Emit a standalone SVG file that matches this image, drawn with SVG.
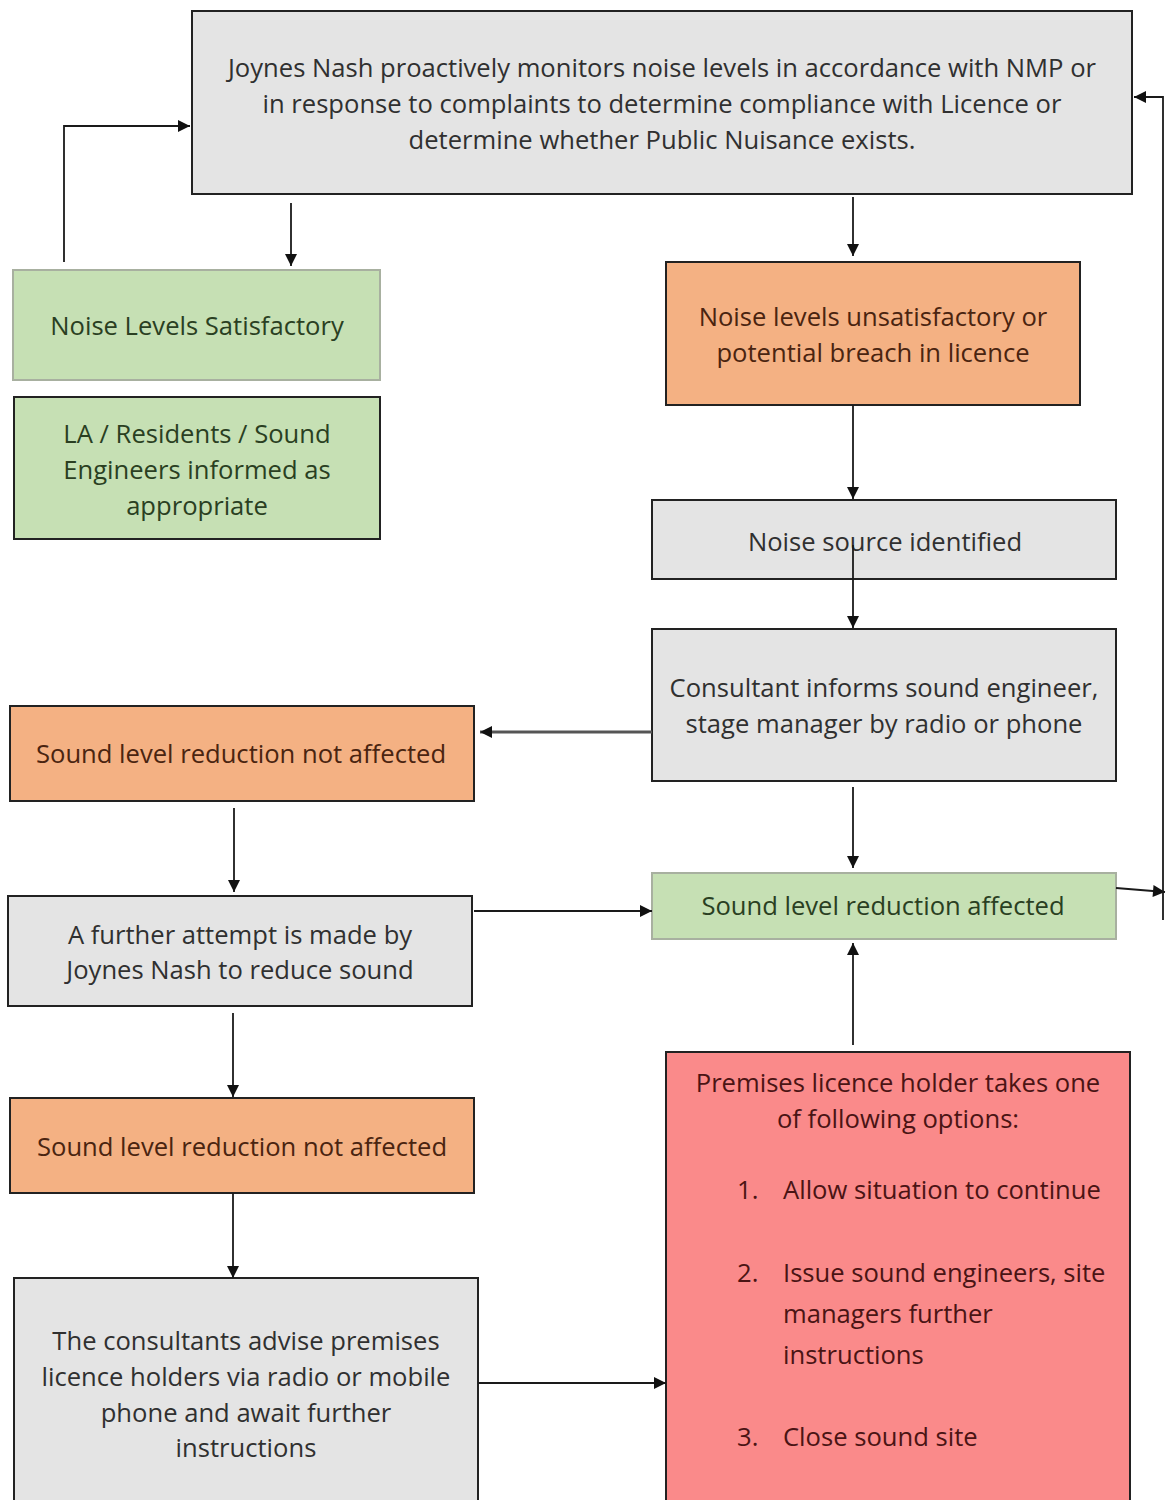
<svg xmlns="http://www.w3.org/2000/svg" width="1171" height="1500" viewBox="0 0 1171 1500">
<style>
text{font-family:"Open Sans",Lato,"Liberation Sans",sans-serif;font-size:25.6px;text-anchor:middle}
.gray rect{fill:#e4e4e4;stroke:#222;stroke-width:2}
.green rect{fill:#c6e0b4;stroke:#a8b0a0;stroke-width:2}
.greenD rect{fill:#c6e0b4;stroke:#222;stroke-width:2}
.orange rect{fill:#f4b183;stroke:#222;stroke-width:2}
.red rect{fill:#fa8a8a;stroke:#222;stroke-width:2}
.gray text{fill:#303030}
.green text,.greenD text{fill:#2a3f22}
.orange text{fill:#4a2410}
.red text{fill:#4a1414}
.conn line,.conn polyline{stroke:#1a1a1a;stroke-width:1.8;fill:none}
</style>
<defs>
<marker id="ahb" viewBox="0 0 10 10" refX="10" refY="5" markerWidth="13" markerHeight="12" markerUnits="userSpaceOnUse" orient="auto">
<path d="M0,0 L10,5 L0,10 z" fill="#111"/>
</marker>
</defs>

<g id="n_top" class="gray">
<rect x="192" y="11" width="940" height="183"/>
<text x="662" y="77">Joynes Nash proactively monitors noise levels in accordance with NMP or</text>
<text x="662" y="113">in response to complaints to determine compliance with Licence or</text>
<text x="662" y="149">determine whether Public Nuisance exists.</text>
</g>
<g id="n_sat" class="green">
<rect x="13" y="270" width="367" height="110"/>
<text x="197" y="335">Noise Levels Satisfactory</text>
</g>
<g id="n_inform" class="greenD">
<rect x="14" y="397" width="366" height="142"/>
<text x="197" y="443">LA / Residents / Sound</text>
<text x="197" y="479">Engineers informed as</text>
<text x="197" y="515">appropriate</text>
</g>
<g id="n_unsat" class="orange">
<rect x="666" y="262" width="414" height="143"/>
<text x="873" y="326">Noise levels unsatisfactory or</text>
<text x="873" y="362">potential breach in licence</text>
</g>
<g id="n_source" class="gray">
<rect x="652" y="500" width="464" height="79"/>
<text x="885" y="551">Noise source identified</text>
</g>
<g id="n_consult" class="gray">
<rect x="652" y="629" width="464" height="152"/>
<text x="884" y="697">Consultant informs sound engineer,</text>
<text x="884" y="733">stage manager by radio or phone</text>
</g>
<g id="n_notaff1" class="orange">
<rect x="10" y="706" width="464" height="95"/>
<text x="241" y="763">Sound level reduction not affected</text>
</g>
<g id="n_aff" class="green">
<rect x="652" y="873" width="464" height="66"/>
<text x="883" y="915">Sound level reduction affected</text>
</g>
<g id="n_further" class="gray">
<rect x="8" y="896" width="464" height="110"/>
<text x="240" y="944">A further attempt is made by</text>
<text x="240" y="979">Joynes Nash to reduce sound</text>
</g>
<g id="n_notaff2" class="orange">
<rect x="10" y="1098" width="464" height="95"/>
<text x="242" y="1156">Sound level reduction not affected</text>
</g>
<g id="n_advise" class="gray">
<rect x="14" y="1278" width="464" height="240"/>
<text x="246" y="1350">The consultants advise premises</text>
<text x="246" y="1386">licence holders via radio or mobile</text>
<text x="246" y="1422">phone and await further</text>
<text x="246" y="1457">instructions</text>
</g>
<g id="n_options" class="red">
<rect x="666" y="1052" width="464" height="470"/>
<text x="898" y="1092">Premises licence holder takes one</text>
<text x="898" y="1128">of following options:</text>
<text x="737" y="1199" style="text-anchor:start">1.</text>
<text x="783" y="1199" style="text-anchor:start">Allow situation to continue</text>
<text x="737" y="1282" style="text-anchor:start">2.</text>
<text x="783" y="1282" style="text-anchor:start">Issue sound engineers, site</text>
<text x="783" y="1323" style="text-anchor:start">managers further</text>
<text x="783" y="1364" style="text-anchor:start">instructions</text>
<text x="737" y="1446" style="text-anchor:start">3.</text>
<text x="783" y="1446" style="text-anchor:start">Close sound site</text>
</g>

<g id="connectors" class="conn">
<polyline points="64,262 64,126 190,126" marker-end="url(#ahb)"/>
<line x1="291" y1="203" x2="291" y2="266" marker-end="url(#ahb)"/>
<line x1="853" y1="197" x2="853" y2="256" marker-end="url(#ahb)"/>
<line x1="853" y1="405" x2="853" y2="499" marker-end="url(#ahb)"/>
<line x1="853" y1="545" x2="853" y2="628" marker-end="url(#ahb)"/>
<line x1="652" y1="732" x2="480" y2="732" marker-end="url(#ahb)" style="stroke:#555;stroke-width:3"/>
<line x1="853" y1="787" x2="853" y2="868" marker-end="url(#ahb)"/>
<line x1="1116" y1="888" x2="1165" y2="892" marker-end="url(#ahb)"/>
<polyline points="1163,920 1163,97 1134,97" marker-end="url(#ahb)"/>
<line x1="234" y1="808" x2="234" y2="892" marker-end="url(#ahb)"/>
<line x1="474" y1="911" x2="652" y2="911" marker-end="url(#ahb)"/>
<line x1="233" y1="1013" x2="233" y2="1097" marker-end="url(#ahb)"/>
<line x1="233" y1="1193" x2="233" y2="1278" marker-end="url(#ahb)"/>
<line x1="478" y1="1383" x2="666" y2="1383" marker-end="url(#ahb)"/>
<line x1="853" y1="1045" x2="853" y2="943" marker-end="url(#ahb)"/>
</g>
</svg>
